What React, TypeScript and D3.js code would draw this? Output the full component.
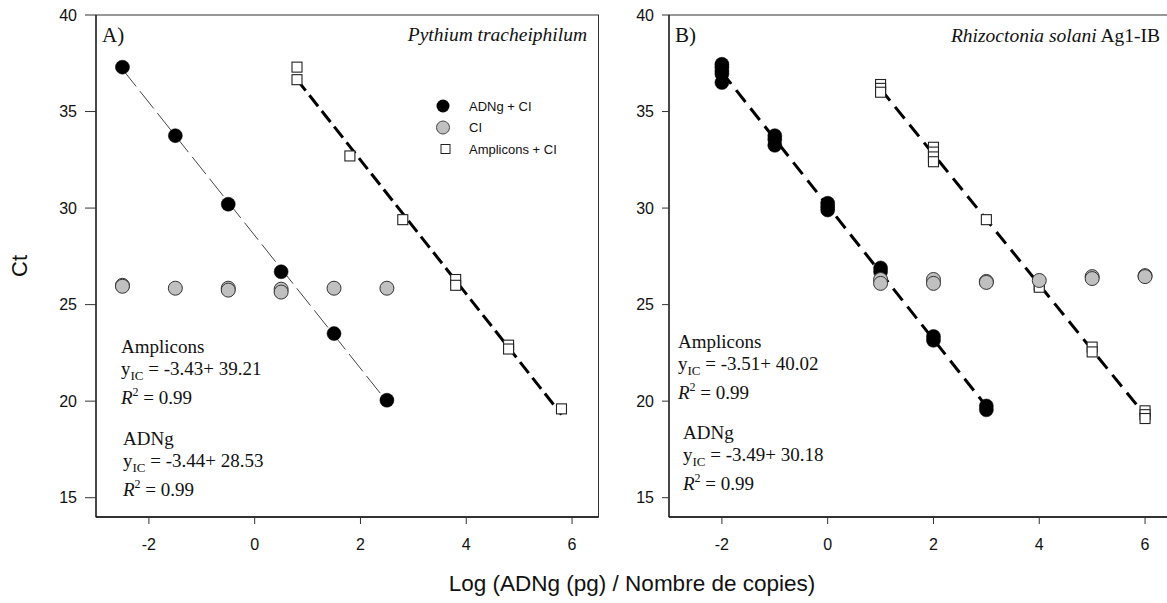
import * as d3 from "d3";

const yTicks = [15, 20, 25, 30, 35, 40];
const xTicks = [-2, 0, 2, 4, 6];

// panel A : Pythium tracheiphilum  [log, Ct]
const adnA: [number, number][] = [
  [-2.5, 37.3], [-1.5, 33.75], [-0.5, 30.2], [0.5, 26.7], [1.5, 23.5], [2.5, 20.05],
];
const ciA: [number, number][] = [
  [-2.5, 26.0], [-2.5, 25.95], [-1.5, 25.85], [-0.5, 25.85], [-0.5, 25.75],
  [0.5, 25.8], [0.5, 25.65], [1.5, 25.85], [2.5, 25.85],
];
const ampA: [number, number][] = [
  [0.8, 37.3], [0.8, 36.65], [1.8, 32.7], [2.8, 29.4], [3.8, 26.3], [3.8, 26.0],
  [4.8, 22.9], [4.8, 22.7], [5.8, 19.6],
];

// panel B : Rhizoctonia solani Ag1-IB
const adnB: [number, number][] = [
  [-2, 37.45], [-2, 37.3], [-2, 37.1], [-2, 36.95], [-2, 36.5],
  [-1, 33.75], [-1, 33.55], [-1, 33.25],
  [0, 30.25], [0, 30.05], [0, 29.9],
  [1, 26.9], [1, 26.7],
  [2, 23.35], [2, 23.15],
  [3, 19.75], [3, 19.55],
];
const ciB: [number, number][] = [
  [1, 26.3], [1, 26.1], [2, 26.3], [2, 26.1], [3, 26.2], [3, 26.15],
  [4, 26.25], [5, 26.45], [5, 26.35], [6, 26.5], [6, 26.45],
];
const ampB: [number, number][] = [
  [1, 36.4], [1, 36.2], [1, 36.0],
  [2, 33.15], [2, 32.9], [2, 32.65], [2, 32.4],
  [3, 29.4], [4, 26.0], [4, 25.9],
  [5, 22.8], [5, 22.55],
  [6, 19.5], [6, 19.3], [6, 19.1],
];

const eqA = { amp: ["-3.43+ 39.21", "0.99"], adn: ["-3.44+ 28.53", "0.99"] };
const eqB = { amp: ["-3.51+ 40.02", "0.99"], adn: ["-3.49+ 30.18", "0.99"] };
const legendItems = ["ADNg + CI", "CI", "Amplicons + CI"];

const SERIF = "'Liberation Serif', 'Times New Roman', serif";
const SANS = "'Liberation Sans', Arial, sans-serif";

// least squares fit, returns [slope, intercept]
function fit(pts: [number, number][]) {
  const mx = d3.mean(pts, (d) => d[0])!;
  const my = d3.mean(pts, (d) => d[1])!;
  let sxy = 0, sxx = 0;
  pts.forEach(([x, y]) => {
    sxy += (x - mx) * (y - my);
    sxx += (x - mx) * (x - mx);
  });
  const b = sxy / sxx;
  return [b, my - b * mx];
}

function FitLine({ pts, x, y, width, dash, color }: any) {
  const [b, a] = fit(pts);
  const [x0, x1] = d3.extent(pts, (d: [number, number]) => d[0]) as [number, number];
  const line = d3.line<number>().x((v) => x(v)).y((v) => y(a + b * v));
  return <path d={line([x0, x1])!} fill="none" stroke={color} strokeWidth={width} strokeDasharray={dash} />;
}

function Equations({ eq, left, top, left2, top2 }: any) {
  const block = (title: string, vals: string[], lx: number, ty: number, gaps: number[]) => (
    <g fontFamily={SERIF} fontSize={19} fill="#111">
      <text x={lx} y={ty}>{title}</text>
      <text x={lx} y={ty + gaps[0]}>
        y<tspan fontSize={13} dy={5}>IC</tspan>
        <tspan dy={-5}> = {vals[0]}</tspan>
      </text>
      <text x={lx} y={ty + gaps[1]}>
        <tspan fontStyle="italic">R</tspan>
        <tspan fontSize={12} dy={-8}>2</tspan>
        <tspan dy={8}> = {vals[1]}</tspan>
      </text>
    </g>
  );
  return (
    <>
      {block("Amplicons", eq.amp, left, top, [22, 51])}
      {block("ADNg", eq.adn, left2, top2, [22, 51])}
    </>
  );
}

function Panel({ x0, tickLen, label, title, adn, ci, amp, eq, legend, adnStyle, ampDash }: any) {
  const top = 15, bottom = 517;
  const x = d3.scaleLinear().domain([-3, 6.5]).range([x0, x0 + 502.5]);
  const y = d3.scaleLinear().domain([14, 40]).range([bottom, top]);
  return (
    <g>
      <rect x={x0} y={top} width={502.5} height={bottom - top} fill="none" stroke="#333" strokeWidth={1} />
      <line x1={x0} x2={x0} y1={top} y2={bottom} stroke="#111" strokeWidth={1.2} />
      <line x1={x0} x2={x0 + 502.5} y1={bottom} y2={bottom} stroke="#111" strokeWidth={1.5} />
      {yTicks.map((t) => (
        <g key={t}>
          <line x1={x0 - tickLen} x2={x0} y1={y(t)} y2={y(t)} stroke="#333" />
          <text x={x0 - tickLen - 8} y={y(t)} dy="0.36em" textAnchor="end" fontFamily={SANS} fontSize={16} fill="#111">
            {t}
          </text>
        </g>
      ))}
      {xTicks.map((t) => (
        <g key={t}>
          <line x1={x(t)} x2={x(t)} y1={bottom} y2={bottom + 7} stroke="#333" />
          <text x={x(t)} y={550} textAnchor="middle" fontFamily={SANS} fontSize={16} fill="#111">
            {t}
          </text>
        </g>
      ))}
      <text x={x0 + 6} y={42} fontFamily={SERIF} fontSize={21} fill="#111">{label}</text>
      {title}

      <FitLine pts={adn} x={x} y={y} {...adnStyle} />
      <FitLine pts={amp} x={x} y={y} width={3} dash={ampDash} color="#000" />

      {adn.map((d: number[], i: number) => (
        <circle key={"a" + i} cx={x(d[0])} cy={y(d[1])} r={7} fill="#000" stroke="#000" strokeWidth={0.5} />
      ))}
      {amp.map((d: number[], i: number) => (
        <rect key={"s" + i} x={x(d[0]) - 5} y={y(d[1]) - 5} width={10} height={10} fill="#fff" stroke="#222" strokeWidth={1.1} />
      ))}
      {ci.map((d: number[], i: number) => (
        <circle key={"c" + i} cx={x(d[0])} cy={y(d[1])} r={7} fill="#c0c0c0" stroke="#333" strokeWidth={1} />
      ))}

      <Equations eq={eq} {...legend.eqPos} />

      {legend.show && (
        <g fontFamily={SANS} fontSize={13} fill="#111">
          {legendItems.map((name, i) => {
            const ly = 106 + i * 21.5;
            return (
              <g key={name}>
                {i === 0 && <circle cx={443} cy={ly} r={6.5} fill="#000" />}
                {i === 1 && <circle cx={443} cy={ly} r={6.5} fill="#c0c0c0" stroke="#444" strokeWidth={1} />}
                {i === 2 && <rect x={441} y={ly - 4.5} width={9} height={9} fill="#fff" stroke="#222" />}
                <text x={469} y={ly} dy="0.36em">{name}</text>
              </g>
            );
          })}
        </g>
      )}
    </g>
  );
}

export default function App() {
  return (
    <svg
      width={1167}
      height={603}
      style={{ position: "absolute", left: 0, top: 0, background: "#fff" }}
    >
      <Panel
        x0={96}
        tickLen={11}
        label="A)"
        title={
          <text x={587} y={41} textAnchor="end" fontFamily={SERIF} fontSize={19.5} fontStyle="italic" fill="#111">
            Pythium tracheiphilum
          </text>
        }
        adn={adnA}
        ci={ciA}
        amp={ampA}
        eq={eqA}
        adnStyle={{ width: 1, dash: "22,6", color: "#444" }}
        ampDash="14,6"
        legend={{ show: true, eqPos: { left: 121, top: 353, left2: 123, top2: 445 } }}
      />
      <Panel
        x0={669}
        tickLen={7}
        label="B)"
        title={
          <text x={1160} y={42} textAnchor="end" fontFamily={SERIF} fontSize={19.5} fill="#111">
            <tspan fontStyle="italic">Rhizoctonia solani</tspan> Ag1-IB
          </text>
        }
        adn={adnB}
        ci={ciB}
        amp={ampB}
        eq={eqB}
        adnStyle={{ width: 3, dash: "15,8", color: "#000" }}
        ampDash="15,8"
        legend={{ show: false, eqPos: { left: 678, top: 348, left2: 683, top2: 439 } }}
      />
      <text
        transform="translate(27,266) rotate(-90)"
        textAnchor="middle"
        fontFamily={SANS}
        fontSize={22}
        fill="#111"
      >
        Ct
      </text>
      <text x={632} y={591} textAnchor="middle" fontFamily={SANS} fontSize={22.5} fill="#111">
        Log (ADNg (pg) / Nombre de copies)
      </text>
    </svg>
  );
}
